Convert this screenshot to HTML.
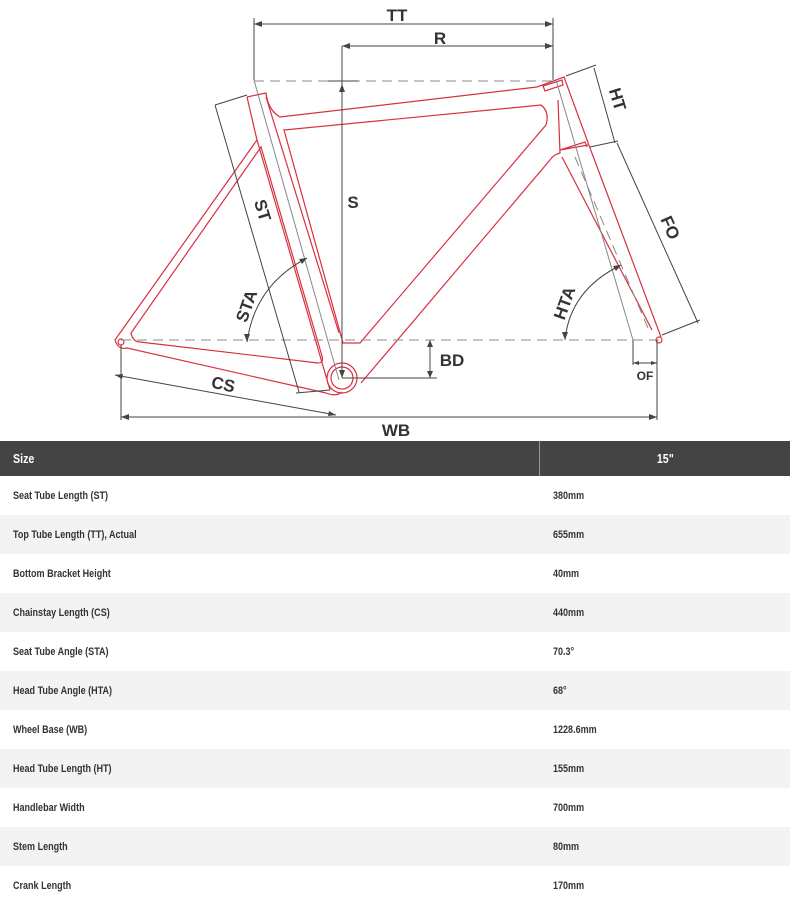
<!DOCTYPE html>
<html><head><meta charset="utf-8"><style>
body{margin:0;width:790px;height:894px;overflow:hidden;background:#fff;font-family:"Liberation Sans Narrow","Liberation Sans",sans-serif;}
svg{position:absolute;left:0;top:0}
table{position:absolute;left:0;top:441px;width:790px;border-collapse:collapse;font-size:11px;font-weight:bold;color:#333;}
td{padding:0 0 0 13px;height:39px;}
td span{display:inline-block;transform:scaleX(0.82);transform-origin:left center;white-space:nowrap}
tr.h td{background:#444;color:#fff;height:35px;font-size:13px;}
tr.h td:last-child{text-align:center;padding:0;border-left:1px solid #999}
tr.h td:last-child span{transform-origin:center center}
tr:nth-child(odd):not(.h) td{background:#f3f3f3}
td:first-child{width:526px}
</style></head><body>
<svg width="790" height="440" viewBox="0 0 790 440">
<g fill="none" stroke="#d9303f" stroke-width="1.2">
<path d="M247,97 L266,93 Q268,110 280,117 L537,87 L564,77 L590,148 L661,337"/>
<path d="M284,130 L541,105 Q550,112 546,125 L360,343 L343,343 Z"/>
<path d="M558,100 L560,153 Q553,155 550,160 L361,383"/>
<path d="M562,157 L652,330 M560,150 L588,145 M543,86 L562,80 L563,85 L545,91Z M560,150 L585,142 L587,147"/>
<path d="M247,97 L257,140 L115,340 Q118,350 127,348 L326,393 Q336,397 342,392"/>
<path d="M261,147 L131,333 Q133,342 140,342 L318,363 Q324,363 322,356 Z"/>
<path d="M257,140 L330,390"/>
<path d="M266,97 L339,333"/>
<circle cx="342" cy="378" r="15"/><circle cx="342" cy="378" r="11"/>
<circle cx="121" cy="342" r="3"/><circle cx="659" cy="340" r="3"/>
</g>
<g fill="none" stroke="#888" stroke-width="1">
<path d="M254,81 L553,81 M121,340 L660,340" stroke-dasharray="10,6"/>
<path d="M575,157 L648,328" stroke-dasharray="10,6"/>
<path d="M254,80 L339,380 M556,80 L633,340"/>
</g>
<g fill="none" stroke="#444" stroke-width="1">
<path d="M254,24 L553,24 M254,18 L254,80 M553,18 L553,80"/>
<path d="M342,46 L553,46 M342,46 L342,378 M328,81 L358,81"/>
<path d="M215,105 L299,392 M215,105 L247,95 M296,393 L330,390"/>
<path d="M594,68 L615,143 M566,76 L596,65 M590,147 L618,141"/>
<path d="M617,143 L698,323 M662,335 L700,320"/>
<path d="M307,258 Q255,285 247,342"/>
<path d="M621,265 Q570,290 565,340"/>
<path d="M430,340 L430,378 M342,378 L437,378"/>
<path d="M633,340 L633,365 M657,340 L657,420 M633,363 L657,363"/>
<path d="M115,375 L336,415 M121,345 L121,420 M121,417 L657,417"/>
</g>
<g fill="#444">
<path d="M254,24 l8,-3 v6z M553,24 l-8,-3 v6z M342,46 l8,-3 v6z M553,46 l-8,-3 v6z M342,84 l-3,8 h6z"/>
<path d="M342,378 l-3,-8 h6z M121,417 l8,-3 v6z M657,417 l-8,-3 v6z M430,340 l-3,7 h6z M430,378 l-3,-7 h6z"/>
<path d="M633,363 l6,-2 v4z M657,363 l-6,-2 v4z M247,342 l-3,-8 h6z M565,340 l-3,-8 h6z M307,258 l-8,1 l3,5z M621,265 l-8,1 l3,5z"/>
<path d="M115,375 l8,-1 l-1,5z M336,415 l-8,1 l1,-5z"/>
</g>
<g font-family="Liberation Sans,sans-serif" font-weight="bold" font-size="17" fill="#333" text-anchor="middle">
<text x="397" y="21">TT</text><text x="440" y="44">R</text><text x="353" y="208">S</text>
<text x="452" y="366">BD</text><text x="396" y="436">WB</text>
<text x="645" y="380" font-size="12">OF</text>
<text transform="translate(257,212) rotate(73)">ST</text>
<text transform="translate(612,101) rotate(73)">HT</text>
<text transform="translate(665,230) rotate(66)">FO</text>
<text transform="translate(252,308) rotate(-70)">STA</text>
<text transform="translate(570,305) rotate(-70)">HTA</text>
<text transform="translate(222,390) rotate(12)">CS</text>
</g>
</svg>
<table>
<tr class="h"><td><span>Size</span></td><td><span>15"</span></td></tr>
<tr><td><span>Seat Tube Length (ST)</span></td><td><span>380mm</span></td></tr>
<tr><td><span>Top Tube Length (TT), Actual</span></td><td><span>655mm</span></td></tr>
<tr><td><span>Bottom Bracket Height</span></td><td><span>40mm</span></td></tr>
<tr><td><span>Chainstay Length (CS)</span></td><td><span>440mm</span></td></tr>
<tr><td><span>Seat Tube Angle (STA)</span></td><td><span>70.3°</span></td></tr>
<tr><td><span>Head Tube Angle (HTA)</span></td><td><span>68°</span></td></tr>
<tr><td><span>Wheel Base (WB)</span></td><td><span>1228.6mm</span></td></tr>
<tr><td><span>Head Tube Length (HT)</span></td><td><span>155mm</span></td></tr>
<tr><td><span>Handlebar Width</span></td><td><span>700mm</span></td></tr>
<tr><td><span>Stem Length</span></td><td><span>80mm</span></td></tr>
<tr><td><span>Crank Length</span></td><td><span>170mm</span></td></tr>
</table>
</body></html>
